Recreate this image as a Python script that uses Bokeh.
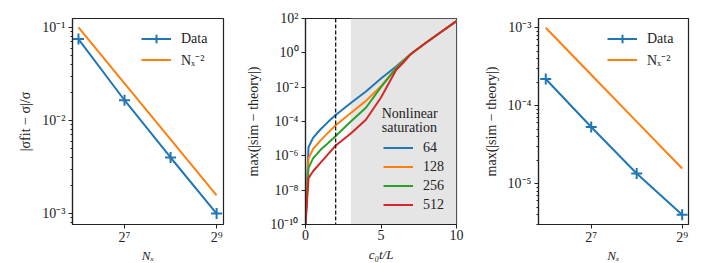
from bokeh.plotting import figure
from bokeh.layouts import row
from bokeh.models import (FixedTicker, CustomJSTickFormatter, Legend, LegendItem,
                          BoxAnnotation, Span, Label, Range1d)
from bokeh.embed import file_html
from bokeh.resources import INLINE

# ---------------- data ----------------
# Panel 1: fit error of growth rate vs resolution
nx = [64, 128, 256, 512]
sigma_err = [0.075, 0.0165, 0.004, 0.001]
ref1 = [0.1, 0.025, 0.00625, 0.0015625]  # ~ Nx^-2

# Panel 2: max |sim - theory| vs time for various resolutions
t = [0.0, 0.2, 0.5, 1.0, 1.5, 2.0, 3.0, 4.0, 5.0, 6.0, 6.5, 7.0, 8.0, 9.0, 10.0]
err64 = [1e-10, 10**-5.5, 10**-4.95, 10**-4.45, 10**-4.02, 10**-3.62, 10**-2.92,
         10**-2.25, 10**-1.5, 10**-0.8, 10**-0.42, 10**-0.05, 10**0.6, 10**1.23, 10**1.85]
err128 = [1e-10, 10**-6.15, 10**-5.6, 10**-5.1, 10**-4.65, 10**-4.22, 10**-3.5,
          10**-2.8, 10**-1.95, 10**-0.87, 10**-0.45, 10**-0.05, 10**0.6, 10**1.23, 10**1.85]
err256 = [1e-10, 10**-6.7, 10**-6.15, 10**-5.65, 10**-5.25, 10**-4.84, 10**-4.0,
          10**-3.2, 10**-2.0, 10**-0.9, 10**-0.48, 10**-0.05, 10**0.6, 10**1.23, 10**1.85]
err512 = [1e-10, 10**-7.3, 10**-6.9, 10**-6.4, 10**-5.9, 10**-5.4, 10**-4.7,
          10**-3.9, 10**-2.6, 10**-1.0, 10**-0.55, 10**-0.05, 10**0.6, 10**1.23, 10**1.85]
series_labels = ["64", "128", "256", "512"]

# Panel 3: max |sim - theory| vs resolution
sim_err = [2.2e-4, 5.33e-5, 1.35e-5, 4.0e-6]
ref3 = [1e-3, 2.5e-4, 6.25e-5, 1.5625e-5]  # ~ Nx^-2

BLUE, ORANGE, GREEN, RED = "#1f77b4", "#ff7f0e", "#2ca02c", "#d62728"
FONT = "Liberation Serif"
FS = "14px"
FH = 206   # frame height
TOP = 18

pow10 = CustomJSTickFormatter(code="""
const sup = {'-':'\u207b','0':'\u2070','1':'\u00b9','2':'\u00b2','3':'\u00b3','4':'\u2074','5':'\u2075','6':'\u2076','7':'\u2077','8':'\u2078','9':'\u2079'};
const e = Math.round(Math.log10(tick)).toString();
return '10' + e.split('').map(c => sup[c]).join('');
""")
pow2 = CustomJSTickFormatter(code="""
const sup = {'-':'\u207b','0':'\u2070','1':'\u00b9','2':'\u00b2','3':'\u00b3','4':'\u2074','5':'\u2075','6':'\u2076','7':'\u2077','8':'\u2078','9':'\u2079'};
const e = Math.round(Math.log2(tick)).toString();
return '2' + e.split('').map(c => sup[c]).join('');
""")


def minor_log(lo_exp, hi_exp):
    out = []
    for e in range(lo_exp, hi_exp + 1):
        for m in range(2, 10):
            out.append(m * 10.0 ** e)
    return out


def style(p):
    p.outline_line_color = "#222222"
    p.outline_line_width = 1.2
    p.xgrid.visible = False
    p.ygrid.visible = False
    p.background_fill_color = "white"
    p.border_fill_color = "white"
    for ax in (p.xaxis[0], p.yaxis[0]):
        ax.axis_line_color = "#222222"
        ax.axis_line_width = 1.2
        ax.major_tick_in = 0
        ax.major_tick_out = 4
        ax.minor_tick_in = 0
        ax.minor_tick_out = 2
        ax.major_tick_line_color = "#222222"
        ax.minor_tick_line_color = "#222222"
        ax.major_label_text_font = FONT
        ax.major_label_text_font_size = FS
        ax.major_label_text_color = "#222222"
        ax.axis_label_text_font = FONT
        ax.axis_label_text_font_size = FS
        ax.axis_label_text_font_style = "normal"
        ax.axis_label_text_color = "#222222"
        ax.major_label_standoff = 3
    p.xaxis[0].major_label_standoff = 1
    p.xaxis[0].axis_label_standoff = 0
    p.xaxis[0].axis_label_text_font_size = "13px"
    p.xaxis[0].axis_label_text_line_height = 1.0
    p.yaxis[0].axis_label_standoff = 6


def make_legend(p, items, loc, h=21):
    leg = Legend(items=items, location=loc, border_line_alpha=0,
                 background_fill_alpha=0, glyph_width=30, glyph_height=h,
                 label_height=h, label_standoff=10, spacing=0, padding=0,
                 margin=0, label_text_font=FONT, label_text_font_size=FS,
                 label_text_color="#222222")
    p.add_layout(leg)


# ---------------- panel 1 ----------------
p1 = figure(x_axis_type="log", y_axis_type="log", frame_width=151, frame_height=FH,
            x_range=Range1d(58.5, 568), y_range=Range1d(7.62e-4, 0.1247),
            output_backend="svg", toolbar_location=None,
            min_border_left=72, min_border_right=17, min_border_top=TOP, min_border_bottom=20)
style(p1)
p1.xaxis[0].ticker = FixedTicker(ticks=[128, 512], minor_ticks=[])
p1.xaxis[0].formatter = pow2
p1.yaxis[0].ticker = FixedTicker(ticks=[1e-3, 1e-2, 1e-1], minor_ticks=minor_log(-4, -1))
p1.yaxis[0].formatter = pow10
p1.xaxis[0].axis_label = "Nₓ"
p1.xaxis[0].axis_label_text_font_style = "italic"
p1.yaxis[0].axis_label = "|σfit − σ|/σ"
l1 = p1.line(nx, sigma_err, line_color=BLUE, line_width=2)
s1 = p1.scatter(nx, sigma_err, marker="cross", size=11, line_color=BLUE, line_width=2)
r1 = p1.line(nx, ref1, line_color=ORANGE, line_width=2)
make_legend(p1, [LegendItem(label="Data", renderers=[l1, s1]),
                 LegendItem(label="Nₓ⁻²", renderers=[r1])], (69, 154))

# ---------------- panel 2 ----------------
p2 = figure(y_axis_type="log", frame_width=151, frame_height=FH,
            x_range=Range1d(0, 10), y_range=Range1d(1e-10, 1e2),
            output_backend="svg", toolbar_location=None,
            min_border_left=65, min_border_right=14, min_border_top=TOP, min_border_bottom=20)
style(p2)
p2.xaxis[0].ticker = FixedTicker(ticks=[0, 5, 10], minor_ticks=[])
p2.yaxis[0].ticker = FixedTicker(ticks=[1e-10, 1e-8, 1e-6, 1e-4, 1e-2, 1e0, 1e2], minor_ticks=[])
p2.yaxis[0].formatter = pow10
p2.xaxis[0].axis_label = "c₀t/L"
p2.xaxis[0].axis_label_text_font_style = "italic"
p2.xaxis[0].axis_label_standoff = 4
p2.yaxis[0].axis_label = "max(|sim − theory|)"
p2.add_layout(BoxAnnotation(left=3, right=10, fill_color="#e5e5e5", fill_alpha=1,
                            line_alpha=0, level="underlay"))
p2.add_layout(Span(location=2, dimension="height", line_color="black",
                   line_dash="4 2", line_width=1.2))
items2 = []
for ys, col, lab in zip([err64, err128, err256, err512], [BLUE, ORANGE, GREEN, RED], series_labels):
    r = p2.line(t, ys, line_color=col, line_width=2)
    items2.append(LegendItem(label=lab, renderers=[r]))
make_legend(p2, items2, (78, 10), h=19)
p2.add_layout(Label(x=5.05, y=3.0e-4, text="Nonlinear", text_font=FONT, text_font_size=FS,
                    text_baseline="middle", text_color="#222222"))
p2.add_layout(Label(x=5.05, y=4.2e-5, text="saturation", text_font=FONT, text_font_size=FS,
                    text_baseline="middle", text_color="#222222"))

# ---------------- panel 3 ----------------
p3 = figure(x_axis_type="log", y_axis_type="log", frame_width=150, frame_height=FH,
            x_range=Range1d(57.3, 564), y_range=Range1d(2.99e-6, 1.315e-3),
            output_backend="svg", toolbar_location=None,
            min_border_left=68, min_border_right=12, min_border_top=TOP, min_border_bottom=20)
style(p3)
p3.xaxis[0].ticker = FixedTicker(ticks=[128, 512], minor_ticks=[])
p3.xaxis[0].formatter = pow2
p3.yaxis[0].ticker = FixedTicker(ticks=[1e-5, 1e-4, 1e-3], minor_ticks=minor_log(-6, -3))
p3.yaxis[0].formatter = pow10
p3.xaxis[0].axis_label = "Nₓ"
p3.xaxis[0].axis_label_text_font_style = "italic"
p3.yaxis[0].axis_label = "max(|sim − theory|)"
l3 = p3.line(nx, sim_err, line_color=BLUE, line_width=2)
s3 = p3.scatter(nx, sim_err, marker="cross", size=11, line_color=BLUE, line_width=2)
r3 = p3.line(nx, ref3, line_color=ORANGE, line_width=2)
make_legend(p3, [LegendItem(label="Data", renderers=[l3, s3]),
                 LegendItem(label="Nₓ⁻²", renderers=[r3])], (69, 154))

layout = row(p1, p2, p3)
open("out.html", "w").write(file_html(layout, INLINE))
